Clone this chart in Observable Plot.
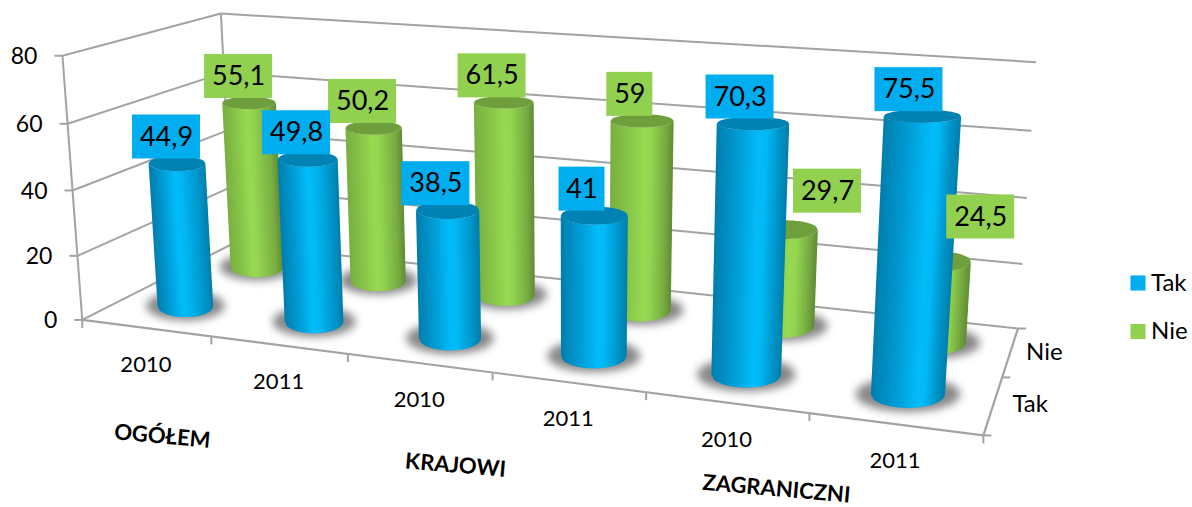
<!DOCTYPE html>
<html>
<head>
<meta charset="utf-8">
<script src="https://cdn.jsdelivr.net/npm/d3@7"></script>
<script src="https://cdn.jsdelivr.net/npm/@observablehq/plot@0.6"></script>
<style>html,body{margin:0;padding:0;background:#fff}</style>
</head>
<body>
<div id="chart"></div>
<script>
// ---------- data ----------
const groups = ["OGÓŁEM", "KRAJOWI", "ZAGRANICZNI"];
const years = ["2010", "2011", "2010", "2011", "2010", "2011"];
const series = ["Tak", "Nie"];
const tak = [44.9, 49.8, 38.5, 41, 70.3, 75.5];
const nie = [55.1, 50.2, 61.5, 59, 29.7, 24.5];
const valueTicks = [0, 20, 40, 60, 80];

// ---------- layout ----------
const W = 1192, H = 507;
const FONT = "Lato, 'Open Sans', sans-serif";
const TAK_C = "#00aeef", NIE_C = "#92d050";
const AXIS = "#a3a3a3";
// camera: world (category u, depth v, value z) matched to the picture's wall corners
const anchors = [
  [0,0,0,82,320],[0,0,20,77,255],[0,0,40,73,190],[0,0,60,68,122],[0,0,80,62,54],
  [1,0,0,210,338],[2,0,0,346,355],[6,0,0,982,434],[6,.5,0,1003,376],[6,1,0,1017,328],
  [6,1,20,1022,263],[6,1,80,1036,63],[0,1,0,233,242],[0,1,80,219,14]
];
function solveCamera(pts) {
  const A = [], b = [];
  for (const [u,v,z,x,y] of pts) {
    const U=u/6, Z=z/80;
    A.push([U,v,Z,1,0,0,0,0,-x*U,-x*v,-x*Z]); b.push(x);
    A.push([0,0,0,0,U,v,Z,1,-y*U,-y*v,-y*Z]); b.push(y);
  }
  const n = 11, N = d3.range(n).map(i => d3.range(n+1).map(j =>
    j<n ? d3.sum(A,(r)=>r[i]*r[j]) : d3.sum(A,(r,k)=>r[i]*b[k])));
  for (let i=0;i<n;i++){
    let p=i; for(let r=i+1;r<n;r++) if(Math.abs(N[r][i])>Math.abs(N[p][i])) p=r;
    [N[i],N[p]]=[N[p],N[i]];
    for(let r=0;r<n;r++) if(r!==i){const f=N[r][i]/N[i][i]; for(let c=i;c<=n;c++) N[r][c]-=f*N[i][c];}
  }
  return d3.range(n).map(i=>N[i][n]/N[i][i]);
}
const cam = solveCamera(anchors);
function project(u,v,z){
  const U=u/6, Z=z/80, w=cam[8]*U+cam[9]*v+cam[10]*Z+1;
  return [(cam[0]*U+cam[1]*v+cam[2]*Z+cam[3])/w,(cam[4]*U+cam[5]*v+cam[6]*Z+cam[7])/w];
}
const RU = 0.222;
const DEPTH = {Tak: 0.25, Nie: 0.75};
// shading across a cylinder; the highlight moves right with the category
const shader = stops => hl => d3.scaleLinear().domain([0,hl*.45,hl,hl+.1,.88,1]).range(stops);
const blueShade = shader(["#007fae","#0098d0","#00bcf9","#00b9f5","#0094c8","#0080ad"]);
const greenShade = shader(["#79b040","#85c247","#97da52","#93d450","#78ad41","#628e37"]);

// a cylinder's end seen from the camera: its centre and half-width come from the
// projection, the flattening grows towards the bottom of the picture
function disc(u,v,z){
  const [cx,cy]=project(u,v,z);
  const hw=(project(u+RU,v,z)[0]-project(u-RU,v,z)[0])/2;
  return {cx,cy,hw,hh:Math.max(4,6.5+(cy-115)*0.025)};
}
function ellipse(d,kx,ky,id,extra){
  return d3.range(0,41).map(i=>{
    const s=-1+i/20, r=Math.sqrt(Math.max(0,1-s*s));
    return {id,x1:d.cx+kx*d.hw*s,x2:d.cx+kx*d.hw*s,y1:d.cy-ky*d.hh*r,y2:d.cy+ky*d.hh*r,...extra};
  });
}
function body(u,v,val,shade,id){
  const bot=disc(u,v,0), top=disc(u,v,val), rows=[], N=40;
  const at=(d,s)=>({x:d.cx+d.hw*s,y:d.cy+d.hh*Math.sqrt(Math.max(0,1-s*s))});
  for(let j=0;j<N;j++){
    const a=-1+2*j/N, b=Math.min(1,-1+2*(j+1.6)/N);
    const color=shade(j/(N-1));
    for(const s of [a,b]){
      const p=at(bot,s), q=at(top,s);
      rows.push({id:id+"-"+j,x1:p.x,y1:p.y,x2:q.x,y2:q.y,color});
    }
  }
  return rows;
}
const cylinders=(vals,name,shader)=>vals.flatMap((val,i)=>body(i+.5,DEPTH[name],val,shader(.45+.035*i),name+i));
const tops=(vals,name,color)=>vals.flatMap((val,i)=>ellipse(disc(i+.5,DEPTH[name],val),1,1,name+i,{color}));
const shadows=[...nie.map((_,i)=>["sn"+i,i+.5,DEPTH.Nie]),...tak.map((_,i)=>["st"+i,i+.5,DEPTH.Tak])]
  .flatMap(([id,u,v])=>ellipse(disc(u,v,0),1.42,1.3,id,{}));

// walls and axes
const seg=(a,b)=>{const p=project(...a),q=project(...b);return {x1:p[0],y1:p[1],x2:q[0],y2:q[1]};};
const wallLines=[
  ...valueTicks.map(z=>seg([0,0,z],[0,1,z])),
  ...valueTicks.map(z=>seg([0,1,z],[6,1,z])),
  seg([0,0,0],[0,0,80]), seg([0,1,0],[0,1,80]),
];
const floorLines=[seg([0,0,0],[6,0,0]),seg([6,0,0],[6,1,0])];
const tickLen=8;
const ticks=[
  ...valueTicks.map(z=>{const p=project(0,0,z);return {x1:p[0]-tickLen,y1:p[1],x2:p[0],y2:p[1]};}),
  ...d3.range(0,7).map(u=>{const p=project(u,0,0);return {x1:p[0],y1:p[1],x2:p[0],y2:p[1]+tickLen};}),
  ...[0,.5,1].map(v=>{const p=project(6,v,0);return {x1:p[0],y1:p[1],x2:p[0]+tickLen,y2:p[1]};}),
];

// value labels: placed above the cylinder top, two pushed aside as in the source chart
const nudgeNie={4:[42,-39],5:[44,-45]};
function labels(vals,name,color){
  return vals.map((val,i)=>{
    const [cx,cy]=project(i+.5,DEPTH[name],val);
    const n=name==="Nie"&&nudgeNie[i]?nudgeNie[i]:[-11-.6*i,-27];
    const text=String(val).replace(".",",");
    const hw=text.length>2?34:23;
    const x=cx+n[0], y=cy+n[1];
    return {x,y,x1:x-hw,x2:x+hw,y1:y-22,y2:y+22,text,color};
  });
}
const boxes=[...labels(nie,"Nie",NIE_C),...labels(tak,"Tak",TAK_C)];

const yearRows=years.map((t,i)=>{const [x,y]=project(i+.5,0,0);return {x,y:y+37,t};});
const groupNudge=[[-49,100],[-37,93],[-33,76]];
const groupRows=groups.map((t,i)=>{const [x,y]=project(2*i+1,0,0);return {x:x+groupNudge[i][0],y:y+groupNudge[i][1],t};});
const valueRows=valueTicks.map(z=>{const [x,y]=project(0,0,z);return {x:x-25,y:y+1,t:String(z)};});
const depthRows=[
  {t:"Tak",p:project(6,.25,0),dx:37,dy:-1},
  {t:"Nie",p:project(6,.75,0),dx:34,dy:0}
].map(d=>({t:d.t,x:d.p[0]+d.dx,y:d.p[1]+d.dy}));
const legendRows=series.map((t,i)=>({t,x:1137.5,y:282.5+i*48.5,color:i?NIE_C:TAK_C}));

const chart=Plot.plot({
  width:W,height:H,margin:0,
  x:{domain:[0,W],range:[0,W],axis:null},
  y:{domain:[0,H],range:[0,H],axis:null},
  style:{background:"#fff",fontFamily:FONT},
  marks:[
    Plot.link(wallLines,{x1:"x1",y1:"y1",x2:"x2",y2:"y2",stroke:AXIS,strokeWidth:2}),
    Plot.area(shadows,{x1:"x1",y1:"y1",x2:"x2",y2:"y2",z:"id",fill:"#6a6a6a",fillOpacity:.8,imageFilter:"blur(4px)"}),
    Plot.link(floorLines,{x1:"x1",y1:"y1",x2:"x2",y2:"y2",stroke:AXIS,strokeWidth:2.2}),
    Plot.link(ticks,{x1:"x1",y1:"y1",x2:"x2",y2:"y2",stroke:AXIS,strokeWidth:2}),
    Plot.area(cylinders(nie,"Nie",greenShade),{x1:"x1",y1:"y1",x2:"x2",y2:"y2",z:"id",fill:"color"}),
    Plot.area(tops(nie,"Nie","#6f9f3c"),{x1:"x1",y1:"y1",x2:"x2",y2:"y2",z:"id",fill:"color"}),
    Plot.area(cylinders(tak,"Tak",blueShade),{x1:"x1",y1:"y1",x2:"x2",y2:"y2",z:"id",fill:"color"}),
    Plot.area(tops(tak,"Tak","#0083b3"),{x1:"x1",y1:"y1",x2:"x2",y2:"y2",z:"id",fill:"color"}),
    Plot.rect(boxes,{x1:"x1",x2:"x2",y1:"y1",y2:"y2",fill:"color",inset:0}),
    Plot.text(boxes,{x:"x",y:"y",text:"text",fontSize:27,fill:"#000"}),
    Plot.text(valueRows,{x:"x",y:"y",text:"t",fontSize:23,textAnchor:"end",fill:"#000"}),
    Plot.text(yearRows,{x:"x",y:"y",text:"t",fontSize:22,fill:"#000"}),
    Plot.text(groupRows,{x:"x",y:"y",text:"t",fontSize:22,fontWeight:"bold",rotate:5,fill:"#000"}),
    Plot.text(depthRows,{x:"x",y:"y",text:"t",fontSize:24,fill:"#000"}),
    Plot.dot(legendRows,{x:"x",y:"y",symbol:"square",r:8.5,fill:"color"}),
    Plot.text(legendRows,{x:d=>d.x+13,y:"y",text:"t",fontSize:24,textAnchor:"start",fill:"#000"}),
  ]
});
document.getElementById("chart").append(chart);
</script>
</body>
</html>
